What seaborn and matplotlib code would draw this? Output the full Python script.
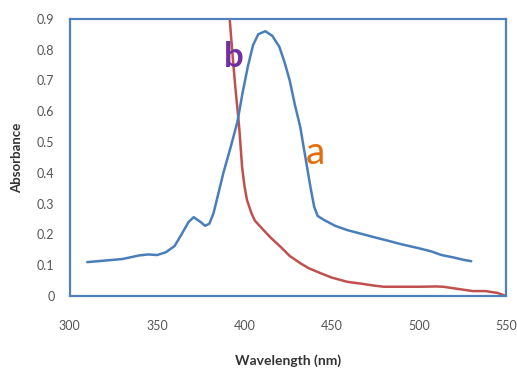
import numpy as np
import matplotlib.pyplot as plt
import seaborn as sns
import pandas as pd

# curve a (blue)
wl_a = [310, 320, 330, 340, 345, 350, 355, 360, 364, 368, 371, 375, 377.5, 380, 382.4, 385, 388,
        392, 396, 399, 402, 405, 408, 412, 416, 420, 423, 426, 429, 432, 435, 438, 440, 442,
        445.6, 452, 459, 465, 475, 482, 490, 500, 507, 513, 520, 526, 530]
abs_a = [0.11, 0.115, 0.12, 0.132, 0.135, 0.133, 0.142, 0.162, 0.2, 0.24, 0.256, 0.24, 0.228, 0.235, 0.27, 0.33, 0.40,
         0.48, 0.565, 0.66, 0.745, 0.815, 0.85, 0.86, 0.845, 0.81, 0.76, 0.70, 0.62, 0.55, 0.45, 0.35, 0.29, 0.26,
         0.247, 0.228, 0.214, 0.205, 0.19, 0.18, 0.168, 0.155, 0.145, 0.133, 0.125, 0.117, 0.113]

# curve b (red)
wl_b = [391.6, 393, 394.8, 396.7, 397.3, 398.7, 400, 401.5, 404, 406, 409.2, 415, 420.7, 426, 432.2,
        437, 443.7, 450, 459, 467, 474, 480, 490, 500, 510, 514, 520, 526, 531, 538, 545, 550]
abs_b = [0.9, 0.8, 0.68, 0.57, 0.53, 0.42, 0.36, 0.312, 0.27, 0.245, 0.225, 0.19, 0.16, 0.13, 0.106,
         0.09, 0.074, 0.06, 0.046, 0.04, 0.034, 0.03, 0.03, 0.03, 0.031, 0.03, 0.025, 0.02, 0.016, 0.016, 0.01, 0.0]

yticks = [0, 0.1, 0.2, 0.3, 0.4, 0.5, 0.6, 0.7, 0.8, 0.9]
xticks = [300, 350, 400, 450, 500, 550]

df_a = pd.DataFrame({"Wavelength": wl_a, "Absorbance": abs_a})
df_b = pd.DataFrame({"Wavelength": wl_b, "Absorbance": abs_b})

sns.set_style("white")
plt.rcParams["font.family"] = ["Lato", "DejaVu Sans"]

fig = plt.figure(figsize=(5.17, 3.70), dpi=100)
ax = fig.add_axes([0.135, 0.2, 0.844, 0.749])

sns.lineplot(data=df_b, x="Wavelength", y="Absorbance", ax=ax, color="#C0504D", linewidth=1.8)
sns.lineplot(data=df_a, x="Wavelength", y="Absorbance", ax=ax, color="#4A7EBB", linewidth=1.8)

ax.set_xlim(300, 550)
ax.set_ylim(0, 0.9)
ax.set_xticks(xticks)
ax.set_yticks(yticks)
ax.set_xticklabels([str(t) for t in xticks])
ax.set_yticklabels(["0"] + [f"{t:.1f}" for t in yticks[1:]])
ax.tick_params(axis="x", pad=17, length=0, labelsize=9, labelcolor="#555555")
ax.tick_params(axis="y", pad=11, length=0, labelsize=9, labelcolor="#555555")

for s in ax.spines.values():
    s.set_color("#4F81BD")
    s.set_linewidth(1.6)

ax.set_xlabel("Wavelength (nm)", fontsize=10, fontweight="bold", color="#333333", labelpad=16)
ax.set_ylabel("Absorbance", fontsize=9.5, fontweight="bold", color="#333333", labelpad=10)

ax.text(393.8, 0.775, "b", fontsize=25, fontweight="bold", color="#7030A0",
        ha="center", va="center")
ax.text(440.5, 0.465, "a", fontsize=28, color="#E46C0A",
        ha="center", va="center")

fig.savefig("out.png", dpi=100)
